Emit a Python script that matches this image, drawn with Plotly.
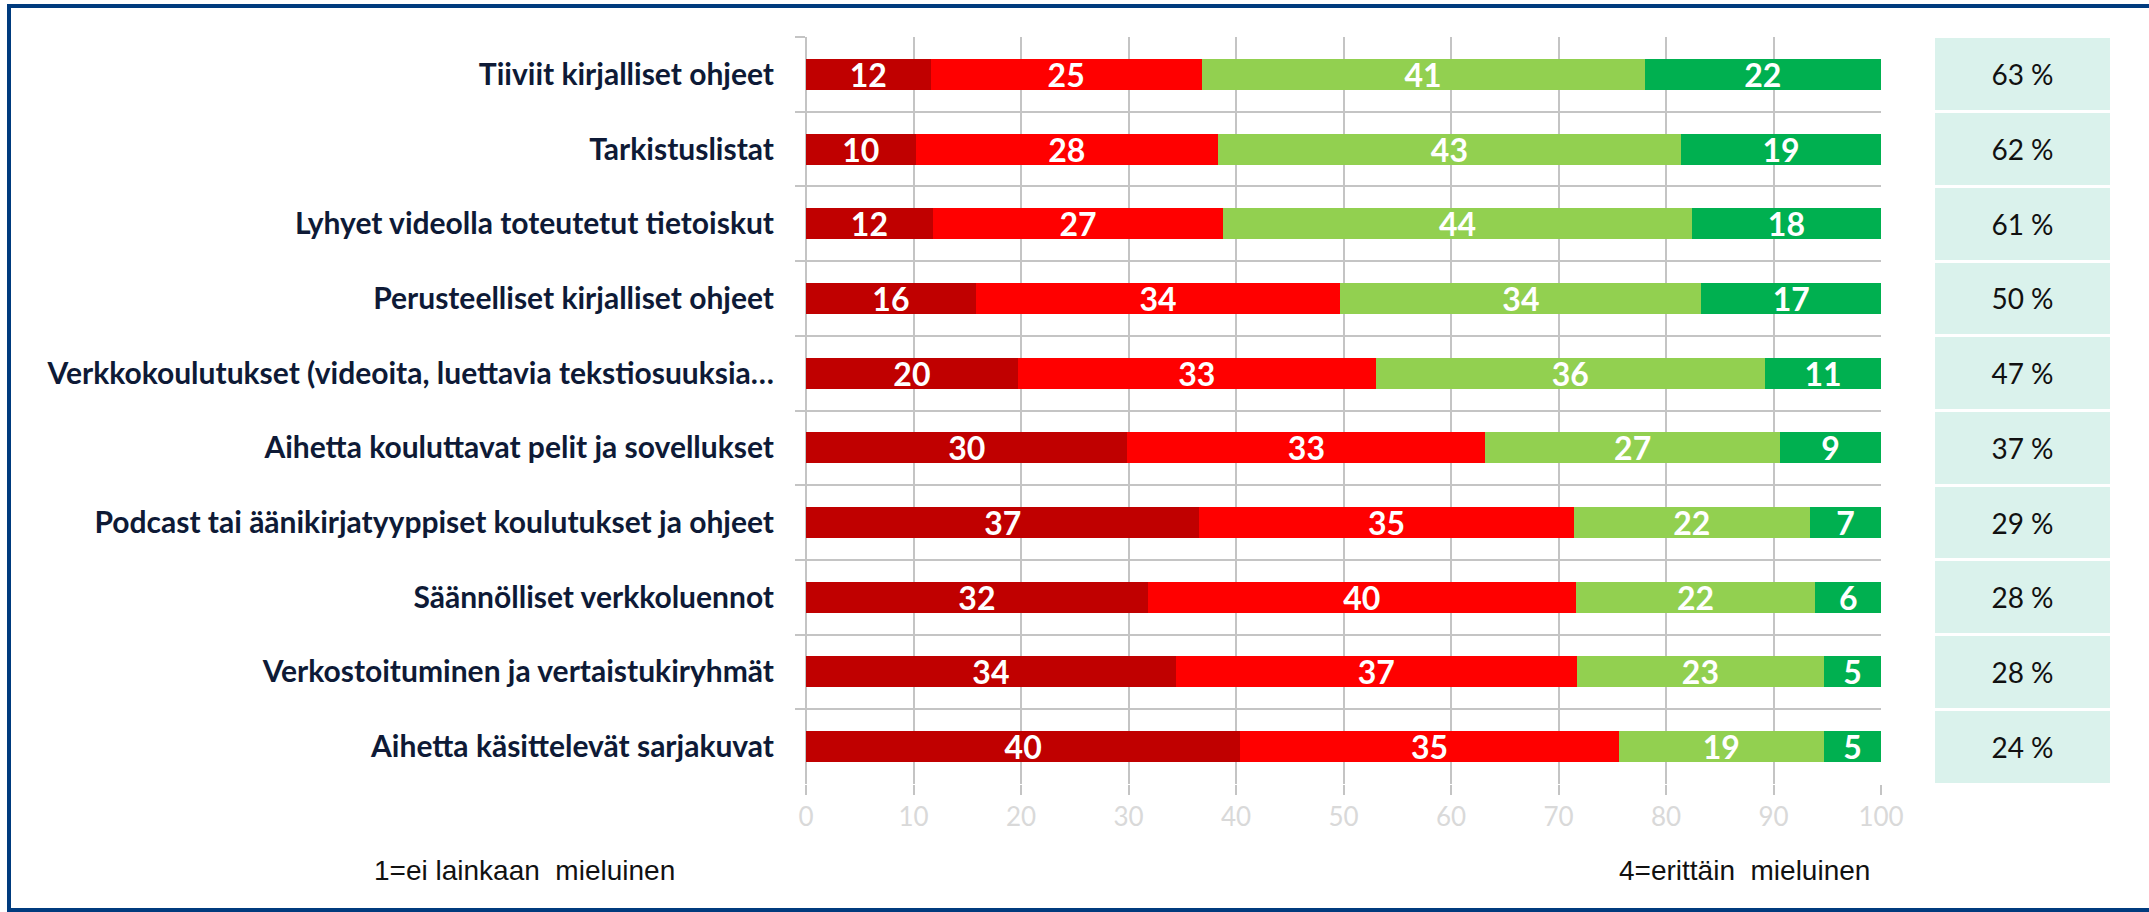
import plotly.graph_objects as go

# ---------------- data ----------------
categories = [
    "Tiiviit kirjalliset ohjeet",
    "Tarkistuslistat",
    "Lyhyet videolla toteutetut tietoiskut",
    "Perusteelliset kirjalliset ohjeet",
    "Verkkokoulutukset (videoita, luettavia tekstiosuuksia…",
    "Aihetta kouluttavat pelit ja sovellukset",
    "Podcast tai äänikirjatyyppiset koulutukset ja ohjeet",
    "Säännölliset verkkoluennot",
    "Verkostoituminen ja vertaistukiryhmät",
    "Aihetta käsittelevät sarjakuvat",
]
level1 = [11.6, 10.2, 11.8, 15.8, 19.7, 29.9, 36.6, 31.8, 34.4, 40.4]   # 1 = ei lainkaan mieluinen
level2 = [25.2, 28.1, 27.0, 33.9, 33.3, 33.3, 34.8, 39.8, 37.3, 35.2]
level3 = [41.2, 43.1, 43.6, 33.6, 36.2, 27.4, 22.0, 22.3, 23.0, 19.1]
level4 = [22.0, 18.6, 17.6, 16.7, 10.8, 9.4, 6.6, 6.1, 5.3, 5.3]        # 4 = erittäin mieluinen
share_pct = [63, 62, 61, 50, 47, 37, 29, 28, 28, 24]
x_ticks = [0, 10, 20, 30, 40, 50, 60, 70, 80, 90, 100]
note_left = "1=ei lainkaan\u00a0\u00a0mieluinen"
note_right = "4=erittäin\u00a0\u00a0mieluinen"

colors = ["#C00000", "#FF0000", "#92D050", "#00B050"]
series = [level1, level2, level3, level4]

# ---------------- geometry ----------------
W, H = 2149, 912
ML, MR, MT, MB = 806, 20, 37, 128
PW = W - ML - MR
PH = H - MT - MB


def px_x(p):
    return (p - ML) / PW


def px_y(p):
    return (H - MB - p) / PH


fig = go.Figure()

for vals, col in zip(series, colors):
    fig.add_trace(go.Bar(
        x=vals, y=categories, orientation="h",
        marker=dict(color=col, line=dict(width=0)),
        width=0.415,
        texttemplate="%{x:.0f}",
        textposition="inside", insidetextanchor="middle",
        textangle=0, constraintext="none",
        textfont=dict(family="Lato", size=32, color="white", weight="bold"),
        hoverinfo="skip", showlegend=False,
        xaxis="x", yaxis="y",
    ))

# side panel with percentages
fig.add_trace(go.Bar(
    x=[1] * len(categories), y=categories, orientation="h",
    marker=dict(color="#DAF2EC", line=dict(width=0)),
    width=0.96,
    customdata=share_pct,
    texttemplate="%{customdata} %",
    textposition="inside", insidetextanchor="middle",
    textangle=0, constraintext="none",
    textfont=dict(family="Lato", size=28, color="#111111"),
    hoverinfo="skip", showlegend=False,
    xaxis="x2", yaxis="y2",
))

grid_col = "#C4C4C4"

fig.update_layout(
    width=W, height=H,
    margin=dict(l=ML, r=MR, t=MT, b=MB, pad=0, autoexpand=False),
    paper_bgcolor="white", plot_bgcolor="white",
    barmode="stack",
    showlegend=False,
    xaxis=dict(
        domain=[0, px_x(1881)],
        range=[0, 100], tickvals=x_ticks,
        showgrid=True, gridcolor=grid_col, gridwidth=2,
        zeroline=True, zerolinecolor=grid_col, zerolinewidth=2,
        showline=False,
        ticks="outside", ticklen=10, tickcolor=grid_col, tickwidth=2,
        tickfont=dict(family="Lato", size=26, color="#D9D9D9"),
        ticklabelstandoff=0,
        automargin=False,
        fixedrange=True,
    ),
    yaxis=dict(
        type="category", categoryorder="array", categoryarray=categories,
        autorange="reversed",
        tickson="boundaries",
        showgrid=True, gridcolor=grid_col, gridwidth=2,
        ticks="outside", ticklen=10, tickcolor=grid_col, tickwidth=2,
        tickfont=dict(family="Lato", size=30, color="#0E1A36", weight="bold"),
        ticklabelstandoff=31,
        showline=False, zeroline=False,
        anchor="x",
        automargin=False,
        fixedrange=True,
    ),
    xaxis2=dict(
        domain=[px_x(1935), px_x(2110)],
        range=[0, 1], visible=False, anchor="y2", fixedrange=True,
        automargin=False,
    ),
    yaxis2=dict(
        type="category", categoryorder="array", categoryarray=categories,
        autorange="reversed", anchor="x2",
        showgrid=False, showticklabels=False, ticks="", showline=False,
        zeroline=False, fixedrange=True, automargin=False,
    ),
    shapes=[
        dict(type="rect", xref="paper", yref="paper",
             x0=px_x(9), x1=px_x(2165), y0=px_y(910), y1=px_y(6),
             line=dict(color="#003B7E", width=4), fillcolor="rgba(0,0,0,0)",
             layer="above"),
    ],
    annotations=[
        dict(xref="paper", yref="paper", x=px_x(372), y=px_y(870),
             xanchor="left", yanchor="middle", showarrow=False,
             text=note_left,
             font=dict(family="Liberation Sans", size=28, color="#111111")),
        dict(xref="paper", yref="paper", x=px_x(1617), y=px_y(870),
             xanchor="left", yanchor="middle", showarrow=False,
             text=note_right,
             font=dict(family="Liberation Sans", size=28, color="#111111")),
    ],
)

fig.write_html(
    "out.html",
    config={"displayModeBar": False, "staticPlot": True},
    post_script="document.body.style.margin='0';document.body.style.padding='0';"
                "document.body.style.overflow='hidden';",
)
